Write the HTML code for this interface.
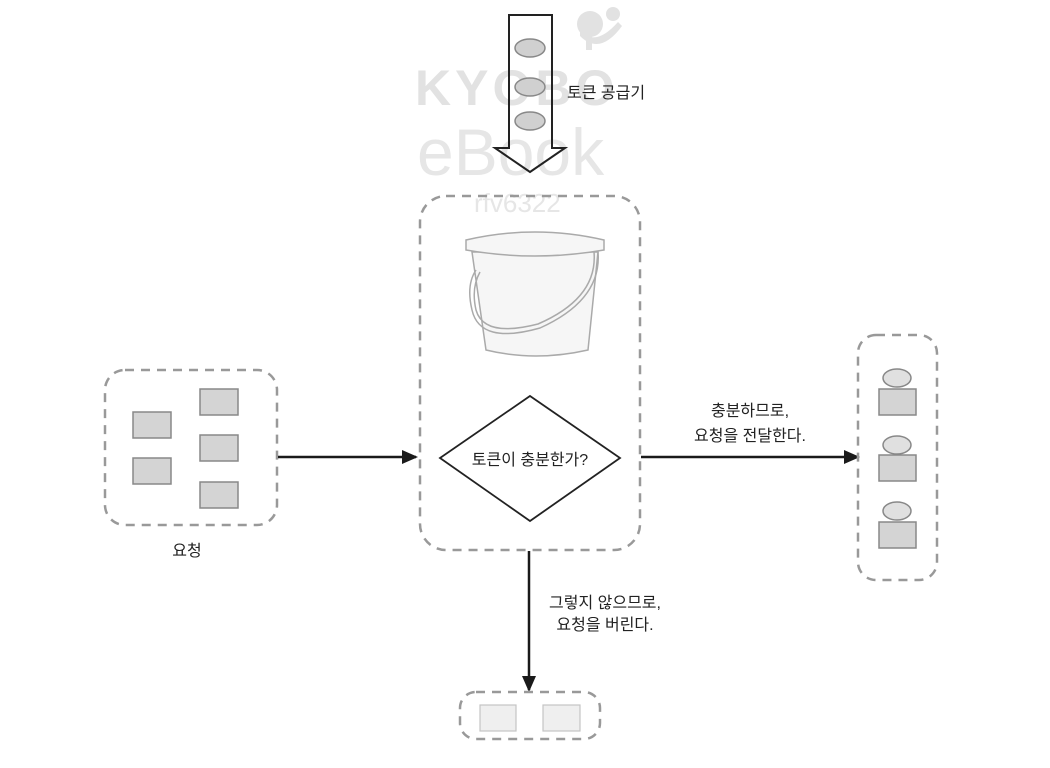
<!DOCTYPE html>
<html><head><meta charset="utf-8"><style>
html,body{margin:0;padding:0;background:#fff;width:1050px;height:768px;overflow:hidden}
svg text{font-family:"Liberation Sans","Noto Sans CJK KR",sans-serif}
</style></head><body>
<svg width="1050" height="768" viewBox="0 0 1050 768" xmlns="http://www.w3.org/2000/svg">
<defs>
<marker id="ah" markerWidth="16" markerHeight="14" refX="14" refY="7" orient="auto" markerUnits="userSpaceOnUse"><path d="M0,0 L16,7 L0,14 z" fill="#1a1a1a"/></marker>
</defs>
<!-- watermark -->
<g fill="#e2e2e2">
<circle cx="590" cy="24" r="13"/><circle cx="613" cy="14" r="7"/>
<path d="M580,30 Q595,48 618,22 L622,26 Q600,56 580,36 Z"/>
<rect x="586" y="34" width="6" height="16"/>
<text x="415" y="105" font-size="50" font-weight="bold" letter-spacing="4">KYOBO</text>
<text x="417" y="175" font-size="66" fill="#e6e6e6">eBook</text>
<text x="474" y="212" font-size="26" fill="#e6e6e6">rfv6322</text>
</g>
<!-- token supplier arrow -->
<path d="M509,15 L552,15 L552,148 L565,148 L530,172 L495,148 L509,148 Z" fill="none" stroke="#222" stroke-width="2"/>
<g fill="#d0d0d0" stroke="#888" stroke-width="1.5">
<ellipse cx="530" cy="48" rx="15" ry="9"/>
<ellipse cx="530" cy="87" rx="15" ry="9"/>
<ellipse cx="530" cy="121" rx="15" ry="9"/>
</g>
<text x="567" y="98" font-size="16" fill="#222">토큰 공급기</text>
<!-- main box -->
<rect x="420" y="196" width="220" height="354" rx="26" fill="none" stroke="#999" stroke-width="2.5" stroke-dasharray="9,7"/>
<!-- bucket -->
<g fill="#f6f6f6" stroke="#aaa" stroke-width="1.5">
<path d="M472,252 L598,252 L588,350 Q535,362 486,350 Z"/>
<path d="M466,240 Q535,224 604,240 L604,250 Q535,262 466,250 Z"/>
<path d="M598,252 Q602,300 540,328 Q480,345 472,310 Q466,285 476,270" fill="none"/>
<path d="M594,252 Q598,298 538,324 Q484,338 476,310 Q471,288 480,272" fill="none"/>
</g>
<!-- diamond -->
<path d="M530,396 L620,458 L530,521 L440,458 Z" fill="#fff" stroke="#222" stroke-width="1.8"/>
<text x="530" y="465" font-size="16" text-anchor="middle" fill="#222">토큰이 충분한가?</text>
<!-- left box -->
<rect x="105" y="370" width="172" height="155" rx="20" fill="none" stroke="#999" stroke-width="2.5" stroke-dasharray="9,7"/>
<g fill="#d4d4d4" stroke="#888" stroke-width="1.5">
<rect x="133" y="412" width="38" height="26"/>
<rect x="133" y="458" width="38" height="26"/>
<rect x="200" y="389" width="38" height="26"/>
<rect x="200" y="435" width="38" height="26"/>
<rect x="200" y="482" width="38" height="26"/>
</g>
<text x="187" y="556" font-size="16" text-anchor="middle" fill="#222">요청</text>
<line x1="278" y1="457" x2="416" y2="457" stroke="#1a1a1a" stroke-width="2.5" marker-end="url(#ah)"/>
<!-- right -->
<line x1="641" y1="457" x2="858" y2="457" stroke="#1a1a1a" stroke-width="2.5" marker-end="url(#ah)"/>
<text x="750" y="416" font-size="16" text-anchor="middle" fill="#222">충분하므로,</text>
<text x="750" y="441" font-size="16" text-anchor="middle" fill="#222">요청을 전달한다.</text>
<rect x="858" y="335" width="79" height="245" rx="18" fill="none" stroke="#999" stroke-width="2.5" stroke-dasharray="9,7"/>
<g stroke="#888" stroke-width="1.5">
<rect x="879" y="389" width="37" height="26" fill="#d4d4d4"/>
<ellipse cx="897" cy="378" rx="14" ry="9" fill="#e0e0e0"/>
<rect x="879" y="455" width="37" height="26" fill="#d4d4d4"/>
<ellipse cx="897" cy="445" rx="14" ry="9" fill="#e0e0e0"/>
<rect x="879" y="522" width="37" height="26" fill="#d4d4d4"/>
<ellipse cx="897" cy="511" rx="14" ry="9" fill="#e0e0e0"/>
</g>
<!-- down -->
<line x1="529" y1="551" x2="529" y2="690" stroke="#1a1a1a" stroke-width="2.5" marker-end="url(#ah)"/>
<text x="605" y="608" font-size="16" text-anchor="middle" fill="#222">그렇지 않으므로,</text>
<text x="605" y="630" font-size="16" text-anchor="middle" fill="#222">요청을 버린다.</text>
<rect x="460" y="692" width="140" height="47" rx="16" fill="none" stroke="#999" stroke-width="2.5" stroke-dasharray="9,7"/>
<g fill="#efefef" stroke="#c4c4c4" stroke-width="1.2">
<rect x="480" y="705" width="36" height="26"/>
<rect x="543" y="705" width="37" height="26"/>
</g>
</svg>
</body></html>
